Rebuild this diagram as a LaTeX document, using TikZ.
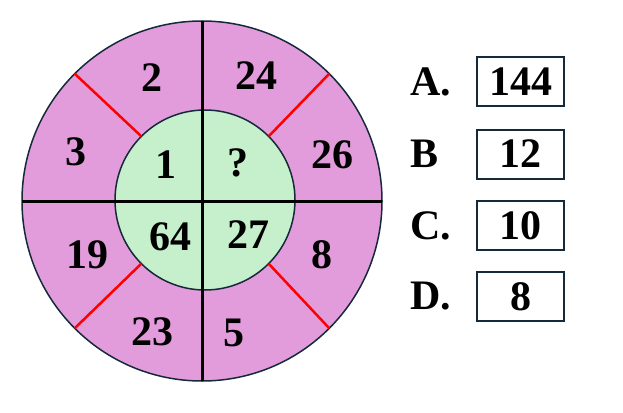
\documentclass[tikz,border=0pt]{standalone}
\usepackage{fontspec}
\setmainfont{Liberation Serif}
\usetikzlibrary{math}
\definecolor{ringpink}{HTML}{E29CDB}
\definecolor{coregreen}{HTML}{C6EFCC}
\definecolor{edgenavy}{HTML}{14293A}

\begin{document}
\begin{tikzpicture}[x=1pt,y=-1pt,
    num/.style={font=\fontsize{42}{50}\selectfont\bfseries,inner sep=0pt},
    choicebox/.style={draw=edgenavy,line width=2pt,minimum width=87pt,minimum height=49pt,inner sep=0pt}]
    \useasboundingbox (0,0) rectangle (623,412);
    % The wheel
    \tikzmath{\R=180;\r=90;}
    \coordinate (o) at (202,201);
    \coordinate (i) at (205,200);
    \draw[edgenavy,line width=1.5pt,fill=ringpink] (o) circle (\R pt);
    \draw[edgenavy,line width=1.5pt,fill=coregreen] (i) circle (\r pt);
    \foreach \a in {45,135,225,315}
      \draw[red,line width=2.5pt] ([shift={(\a:\r pt)}]i) -- ([shift={(\a:\R pt)}]o);
    \draw[line width=3pt,shift={(o)}] (0,-\R) -- (0,\R);
    \draw[line width=3pt,shift={(o)}] (-\R,0) -- (\R,0);
    % The numbers
    \node[num] (n2) at (152,78) {2};
    \node[num] (n24) at (256,76) {24};
    \node[num] (n3) at (76,152) {3};
    \node[num] (n26) at (332,155) {26};
    \node[num] (n1) at (166,165) {1};
    \node[num] (nq) at (238,163) {?};
    \node[num] (n64) at (170,237) {64};
    \node[num] (n27) at (248,235) {27};
    \node[num] (n19) at (87,255) {19};
    \node[num] (n8) at (322,255) {8};
    \node[num] (n23) at (152,332) {23};
    \node[num] (n5) at (234,333) {5};
    % The choices
    \foreach \k/\l/\v/\y in {a/A./144/81.5,b/B/12/154,c/C./10/225.5,d/D./8/296.5}{
      \node[num,anchor=west] (lab\k) at (410,\y) {\l};
      \node[num,choicebox] (box\k) at (520.5,\y) {\v};
    }
\end{tikzpicture}
\end{document}
